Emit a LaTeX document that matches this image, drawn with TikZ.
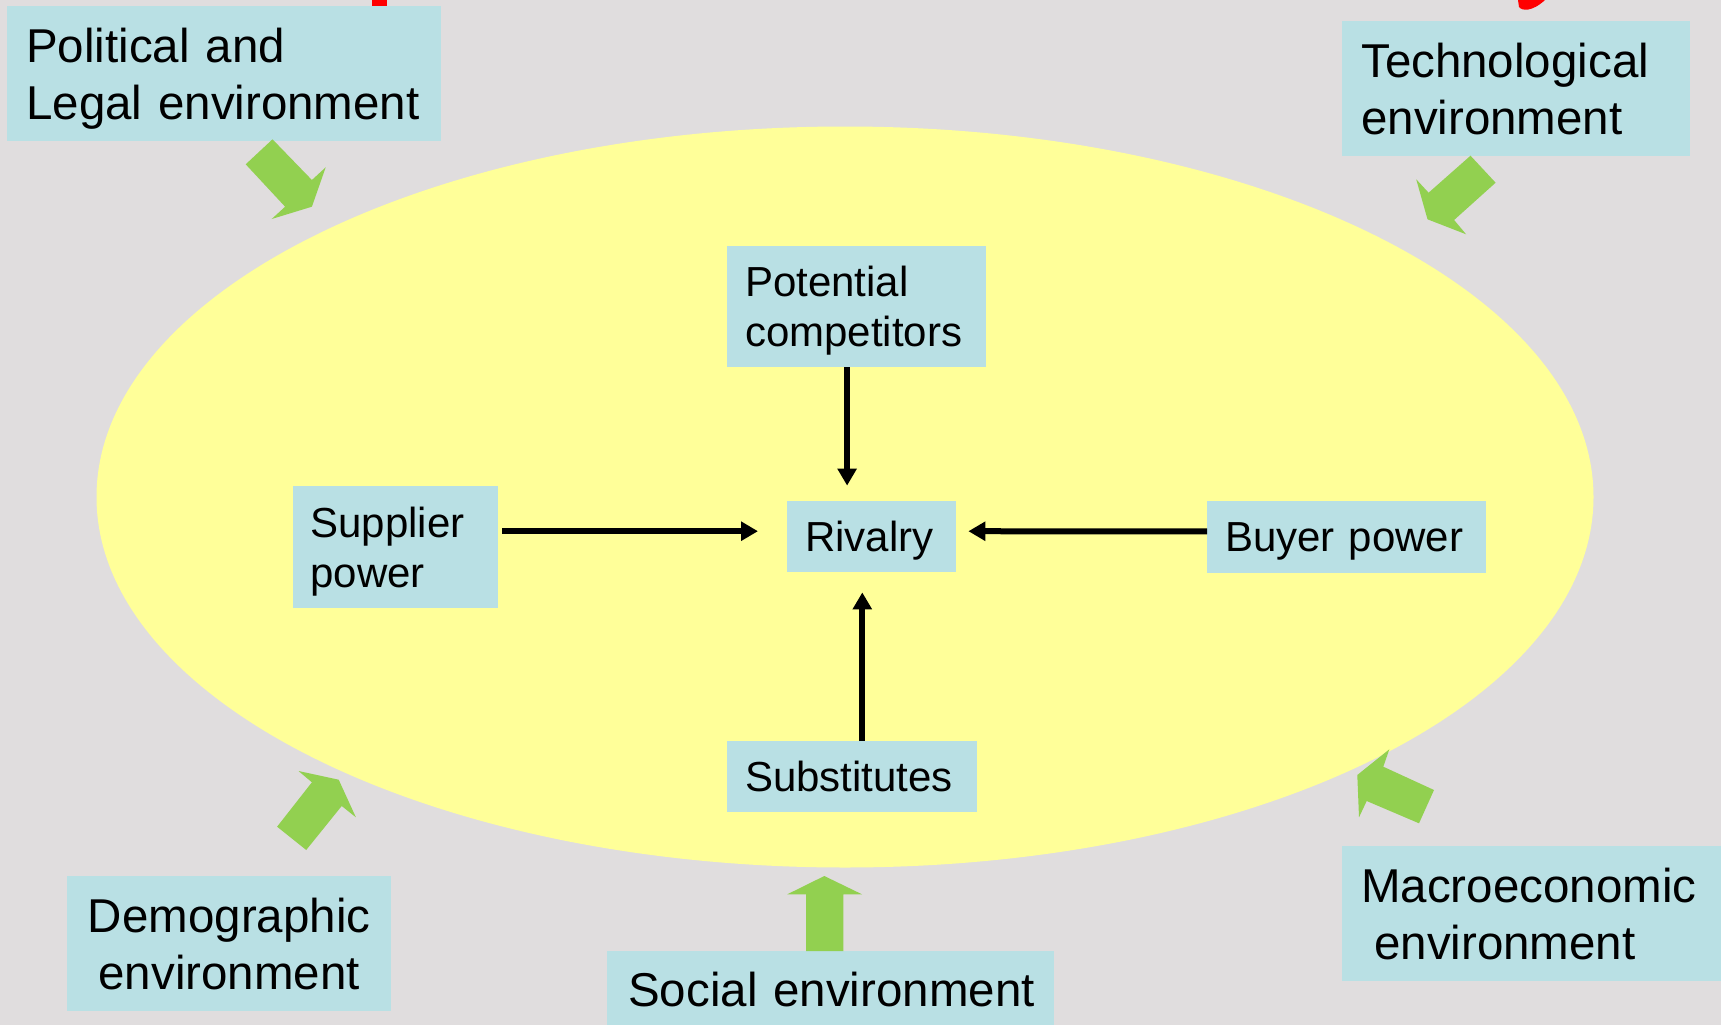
\documentclass[tikz,border=0pt]{standalone}
\usepackage{fontspec}
\setmainfont{Liberation Sans}
\usepackage{tikz}
\usetikzlibrary{arrows.meta}
\usetikzlibrary{calc}
\hyphenpenalty=10000
\exhyphenpenalty=10000

\definecolor{bggray}{RGB}{224,221,222}
\definecolor{boxblue}{RGB}{185,224,228}
\definecolor{ellyellow}{RGB}{255,255,153}
\definecolor{envgreen}{RGB}{146,208,80}
\definecolor{titlered}{RGB}{255,0,0}

\tikzset{
  box/.style={fill=boxblue, anchor=north west, inner ysep=0pt, text depth=0pt, align=left},
  force/.style={box, inner xsep=18pt, font=\fontsize{42}{50}\selectfont},
  env/.style={box, inner xsep=19pt, font=\fontsize{47.5}{56.5}\selectfont},
  twoforce/.style={text depth=50pt},
  twoenv/.style={text depth=56.5pt},
  pull/.style={line width=6pt, -{Triangle[length=17pt,width=18.5pt]}},
  envarrow/.style={fill=envgreen}
}

\begin{document}
\begin{tikzpicture}[x=1pt, y=-1pt]
\clip (0,0) rectangle (1721,1025);
\fill[bggray] (0,0) rectangle (1721,1025);

\fill[titlered] (372.3,0) rectangle (386.7,9.3);
\fill[titlered] (1518,0) -- (1519,7) .. controls (1522,11) and (1532,12) .. (1545,0) -- cycle;

\fill[ellyellow] (845,497) ellipse [x radius=748.5, y radius=370.5];

\node[env, twoenv, text width=396pt, minimum height=135pt] (pol) at (7,6) {Political~and\\Legal~environment};
\node[env, twoenv, text width=310pt, minimum height=134.7pt] (tech) at (1342,21) {Technological\\environment};
\node[env, twoenv, align=center, text width=286pt, minimum height=134.7pt] (dem) at (67,876) {Demographic\\environment};
\node[env, inner xsep=21pt, text width=405pt, minimum height=77pt] (soc) at (607,951) {Social~environment};
\node[env, twoenv, text width=340.7pt, minimum height=134.7pt] (mac) at (1342,846) {Macroeconomic\\\hspace*{13pt}environment};

\node[force, twoforce, text width=223pt, minimum height=121pt] (pot) at (727,246) {Potential\\competitors};
\node[force, text width=132.6pt, minimum height=71pt] (riv) at (787,501) {Rivalry};
\node[force, twoforce, text width=169.7pt, minimum height=121.7pt] (sup) at (292.3,486) {Supplier\\power};
\node[force, text width=242.5pt, minimum height=71.5pt] (buy) at (1207,501) {Buyer~power};
\node[force, text width=214pt, minimum height=70.7pt] (subs) at (727,741) {Substitutes};

\draw[pull, shorten >=15.4pt] ([xshift=-9.6pt]pot.south) -- ([xshift=-9.6pt]pot.south |- riv.north);
\draw[pull, shorten >=20pt] ([xshift=10.1pt]subs.north) -- ([xshift=10.1pt]subs.north |- riv.south);
\draw[pull, shorten <=4pt, shorten >=29pt] ([yshift=5.5pt]riv.west -| sup.east) -- ([yshift=5.5pt]riv.west);
\draw[pull, shorten >=12.4pt] ([yshift=5.5pt]buy.west) -- ([yshift=5.5pt]riv.east);

\fill[envarrow] (272.5,139.3) -- (311.9,180) -- (325.7,167.3) -- (311.9,206.7) -- (271.7,219) -- (285.1,206.7) -- (245.7,164.3) -- cycle;
\fill[envarrow] (1470.5,155.7) -- (1495.6,182.7) -- (1454.1,220) -- (1466.1,234.3) -- (1427.5,219.3) -- (1416.2,179.3) -- (1428.6,192.7) -- cycle;
\fill[envarrow] (277.1,826.7) -- (306.2,850) -- (341.7,806) -- (355.9,817.3) -- (338.7,779.7) -- (298.5,771) -- (311.9,782.3) -- cycle;
\fill[envarrow] (806,951) -- (806,894.3) -- (787.3,894.3) -- (824.3,876) -- (862,894.3) -- (843.3,894.3) -- (843.3,951) -- cycle;
\fill[envarrow] (1434,790) -- (1419,823.3) -- (1366.7,801) -- (1359,817.3) -- (1357.3,775) -- (1389.3,749.3) -- (1383.3,766.7) -- cycle;
\end{tikzpicture}
\end{document}
